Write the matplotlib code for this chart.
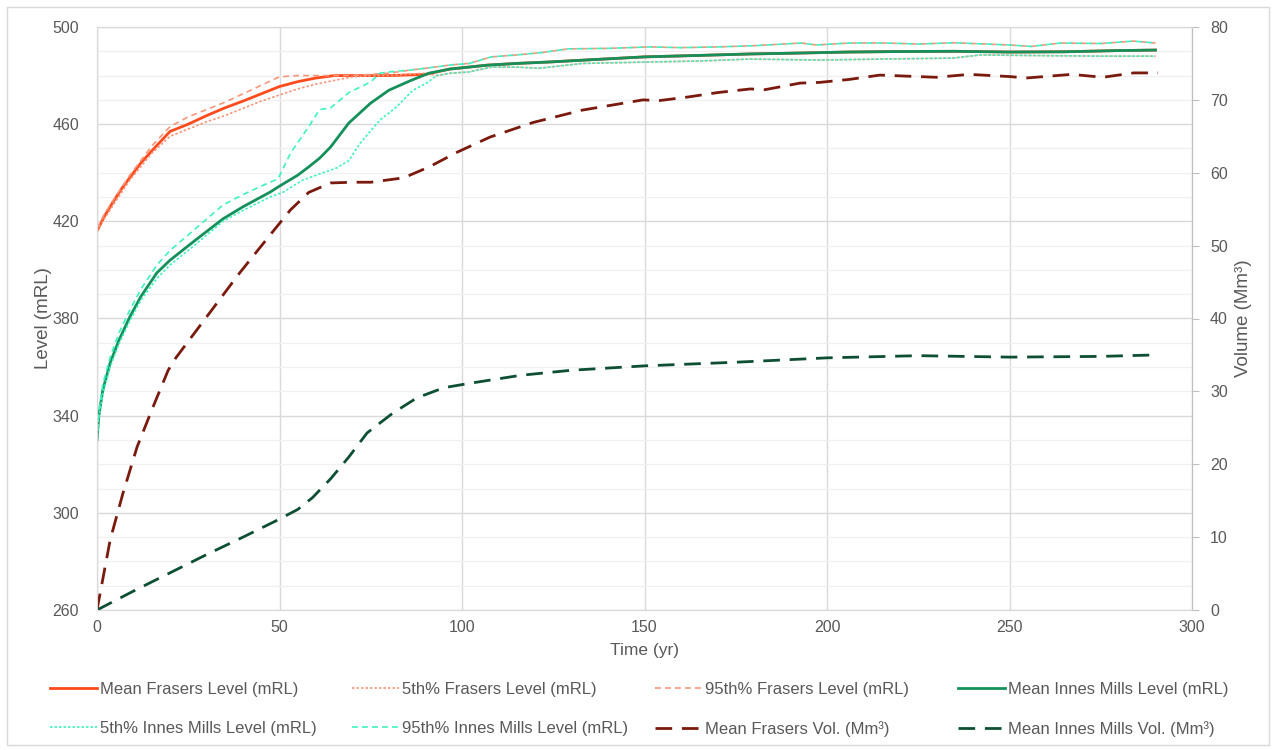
import numpy as np
import matplotlib
matplotlib.use("Agg")
import matplotlib.pyplot as plt
from matplotlib.patches import Rectangle
from matplotlib.ticker import MultipleLocator, FixedLocator

plt.rcParams['font.family'] = ['Liberation Sans', 'DejaVu Sans']

# ---- data ----
# Innes Mills levels (mRL)
t_im_mean = [0, 0.5, 1.6, 3.6, 6, 9, 12, 16.4, 20, 27, 34.5, 40, 47.4, 50, 55, 58, 61, 64, 69, 75,
             80, 86, 91, 96.7, 100, 107, 115, 124, 135, 150, 165, 179, 190, 206, 220, 235, 250, 265,
             280, 290]
im_mean = [330, 340, 350.6, 361.7, 371, 380.7, 389, 398.8, 404, 412.3, 421, 426, 432, 434.5, 439,
           442.4, 446, 450.6, 460.5, 468.7, 474, 478, 481, 482.7, 483.2, 484.3, 485, 485.6, 486.5,
           487.7, 488.3, 488.9, 489.2, 489.7, 489.9, 490, 489.7, 489.8, 490.3, 490.5]

t_im_p95 = [0, 0.5, 1.6, 3.6, 6, 9, 12, 16.4, 20, 27, 34.5, 40, 45, 49.6, 53, 58, 61, 64, 69, 75,
            77.5, 80, 86, 91, 97, 102, 108, 115, 122, 129, 140, 151.5, 160, 170, 180, 193, 197,
            206, 216, 225, 235, 250, 256, 264, 275, 284, 290]
im_p95 = [330, 342, 353, 364, 374, 383.5, 392, 402, 408, 417, 426.7, 431, 434.5, 437.5, 448, 459,
          466, 466.7, 473, 477.4, 481, 481.5, 482.3, 483.2, 484.4, 485, 487.7, 488.5, 489.5, 491,
          491.2, 491.8, 491.5, 491.8, 492.3, 493.4, 492.6, 493.4, 493.4, 493, 493.5, 492.6, 492,
          493.4, 493.2, 494.2, 493.4]

t_im_p5 = [0, 0.5, 1.6, 3.6, 6, 9, 12, 16.4, 20, 27, 34.5, 40, 47.4, 51, 56.4, 61, 65.7, 69, 72,
           77.5, 82, 86.6, 90.4, 93, 97, 102, 108, 115, 121, 133, 151.5, 165, 179, 198, 215, 234.5,
           242, 260, 275, 290]
im_p5 = [330, 339, 349, 360, 369.5, 379, 387.5, 396.5, 402, 410.5, 420, 424.5, 430, 432, 437,
         439.5, 442, 445, 452, 461.7, 467, 474, 477, 480, 481, 481.5, 483.5, 483.5, 483, 485, 485.6,
         486, 486.8, 486.4, 486.8, 487.2, 488.5, 488.2, 488, 488]

# Frasers levels (mRL) before joining Innes Mills
t_fr_mean = [0, 2, 4.4, 7, 9, 12, 15, 20, 25, 30, 35, 40, 45, 50, 55, 60, 65, 70, 80, 90]
fr_mean = [416, 422, 428, 434, 438, 444, 449, 457, 460, 463.5, 466.7, 469.5, 472.5, 475.5, 477.5,
           479, 480, 480, 480, 480.5]

t_fr_p5 = [0, 2, 5, 9, 15, 20, 25, 30, 35, 40, 45, 50, 55, 60, 65, 70, 75, 80, 90]
fr_p5 = [416, 421, 428, 437, 448, 455, 458, 461, 463.5, 466.5, 469.5, 472, 474.5, 476.5, 478, 479.5,
         480, 480, 481]

t_fr_p95 = [0, 2, 5, 9, 15, 20, 25, 30, 35, 40, 45, 50, 55, 60, 70, 80]
fr_p95 = [417, 423, 430, 439, 451, 459, 463, 466, 469, 472.5, 476, 479.5, 480, 480, 480, 481]

# Volumes (Mm3)
t_fr_vol = [0, 3.6, 7.1, 11, 15.3, 19.5, 21.6, 30, 39, 47, 53, 58, 64, 70, 75, 84, 91, 98.6, 107.7,
            119.5, 133, 149.6, 154, 162, 170, 179, 183, 192.6, 198, 206, 214.5, 230, 239, 250,
            254.6, 267, 275.6, 284, 290.7]
fr_vol = [0, 9.6, 16, 22.4, 27.8, 32.9, 34.6, 40.2, 46.2, 51.2, 54.9, 57.3, 58.6, 58.7, 58.7, 59.3,
          60.8, 62.8, 64.9, 66.9, 68.6, 70, 69.9, 70.4, 71, 71.5, 71.4, 72.3, 72.4, 72.8, 73.4, 73.1,
          73.5, 73.2, 73, 73.5, 73.1, 73.7, 73.7]

t_im_vol = [0, 10, 20, 30, 40, 49.3, 55, 59, 64, 69, 74, 81, 87.6, 95, 102, 116, 130, 150, 175, 200,
            225, 250, 275, 290]
im_vol = [0, 2.6, 5.1, 7.6, 10, 12.3, 13.8, 15.4, 18, 21, 24.3, 27, 29.1, 30.5, 31.1, 32.2, 32.9,
          33.5, 34.0, 34.6, 34.9, 34.7, 34.8, 35.0]

level_ticks = [260, 300, 340, 380, 420, 460, 500]


def join(t_a, v_a, t_b, v_b, t_from):
    # Frasers levels follow the Innes Mills levels once the two storages join
    tb = np.array(t_b)
    vb = np.array(v_b)
    keep = tb >= t_from
    return np.concatenate([t_a, tb[keep]]), np.concatenate([v_a, vb[keep]])


fr_mean_t, fr_mean_v = join(t_fr_mean, fr_mean, t_im_mean, im_mean, 96)
fr_p5_t, fr_p5_v = join(t_fr_p5, fr_p5, t_im_p5, im_p5, 93)
fr_p95_t, fr_p95_v = join(t_fr_p95, fr_p95, t_im_p95, im_p95, 86)

# ---- colours ----
c_fr = "#FF4A1C"
c_fr_band = "#F7967A"
c_im = "#15905A"
c_im_band = "#3DF2C0"
c_fr_vol = "#7A1A0E"
c_im_vol = "#0E4F33"
grey_txt = "#595959"

fig = plt.figure(figsize=(12.75, 7.5), dpi=100)
ax = fig.add_axes([97 / 1275, 1 - 610 / 750, (1192 - 97) / 1275, (610 - 27) / 750])
ax2 = ax.twinx()

lines = []
lines += ax.plot(fr_mean_t, fr_mean_v, color=c_fr, lw=2.0, label="Mean Frasers Level (mRL)")
lines += ax.plot(fr_p5_t, fr_p5_v, color=c_fr_band, lw=1.2, ls=(0, (1.5, 1.2)),
                 label="5th% Frasers Level (mRL)")
lines += ax.plot(fr_p95_t, fr_p95_v, color=c_fr_band, lw=1.2, ls=(0, (3.5, 2.5)),
                 label="95th% Frasers Level (mRL)")
lines += ax.plot(t_im_mean, im_mean, color=c_im, lw=2.0, label="Mean Innes Mills Level (mRL)")
lines += ax.plot(t_im_p5, im_p5, color=c_im_band, lw=1.2, ls=(0, (1.5, 1.2)),
                 label="5th% Innes Mills Level (mRL)")
lines += ax.plot(t_im_p95, im_p95, color=c_im_band, lw=1.2, ls=(0, (3.5, 2.5)),
                 label="95th% Innes Mills Level (mRL)")
lines += ax2.plot(t_fr_vol, fr_vol, color=c_fr_vol, lw=2.0, ls=(0, (6, 3.5)),
                  label="Mean Frasers Vol. (Mm\u00b3)")
lines += ax2.plot(t_im_vol, im_vol, color=c_im_vol, lw=2.0, ls=(0, (6, 3.5)),
                  label="Mean Innes Mills Vol. (Mm\u00b3)")

# axes limits / ticks
ax.set_xlim(0, 300)
ax.set_ylim(260, 500)
ax2.set_ylim(0, 80)
ax.xaxis.set_major_locator(MultipleLocator(50))
ax.yaxis.set_major_locator(FixedLocator(level_ticks))
ax.yaxis.set_minor_locator(FixedLocator(np.arange(260, 501, 10)))
ax2.yaxis.set_major_locator(MultipleLocator(10))

ax.grid(which="major", axis="both", color="#D9D9D9", lw=1.0)
ax.grid(which="minor", axis="y", color="#F0F0F0", lw=1.0)
ax.set_axisbelow(True)

for a in (ax, ax2):
    for s in a.spines.values():
        s.set_color("#D9D9D9")
ax2.spines["right"].set_color("#BFBFBF")

ax.tick_params(axis="both", which="both", length=0, labelsize=11.5, labelcolor=grey_txt, pad=7)
ax.tick_params(axis="y", pad=13)
ax2.tick_params(axis="y", length=5, color="#BFBFBF", labelsize=11.5, labelcolor=grey_txt, pad=8)

ax.set_xlabel("Time (yr)", fontsize=12.5, color=grey_txt, labelpad=6)
ax.set_ylabel("Level (mRL)", fontsize=13.5, color=grey_txt, labelpad=0)
ax2.set_ylabel("Volume (Mm\u00b3)", fontsize=13.5, color=grey_txt, labelpad=5)

# legend: 4 equal-width columns, two rows, filled row by row
col_x = [50, 352, 655, 958]
for i, x in enumerate(col_x):
    leg = fig.legend(handles=[lines[i], lines[i + 4]], loc="upper left",
                     bbox_to_anchor=(x / 1275, 1 - 682 / 750),
                     frameon=False, fontsize=12, handlelength=2.8, handletextpad=0.2,
                     labelspacing=1.45, borderpad=0, borderaxespad=0)
    for txt in leg.get_texts():
        txt.set_color(grey_txt)

# light border around the whole chart
fig.patches.append(Rectangle((7 / 1275, 5 / 750), 1262 / 1275, 738 / 750,
                             transform=fig.transFigure, fill=False,
                             edgecolor="#D9D9D9", lw=1.0))

fig.savefig("out.png", dpi=100)
